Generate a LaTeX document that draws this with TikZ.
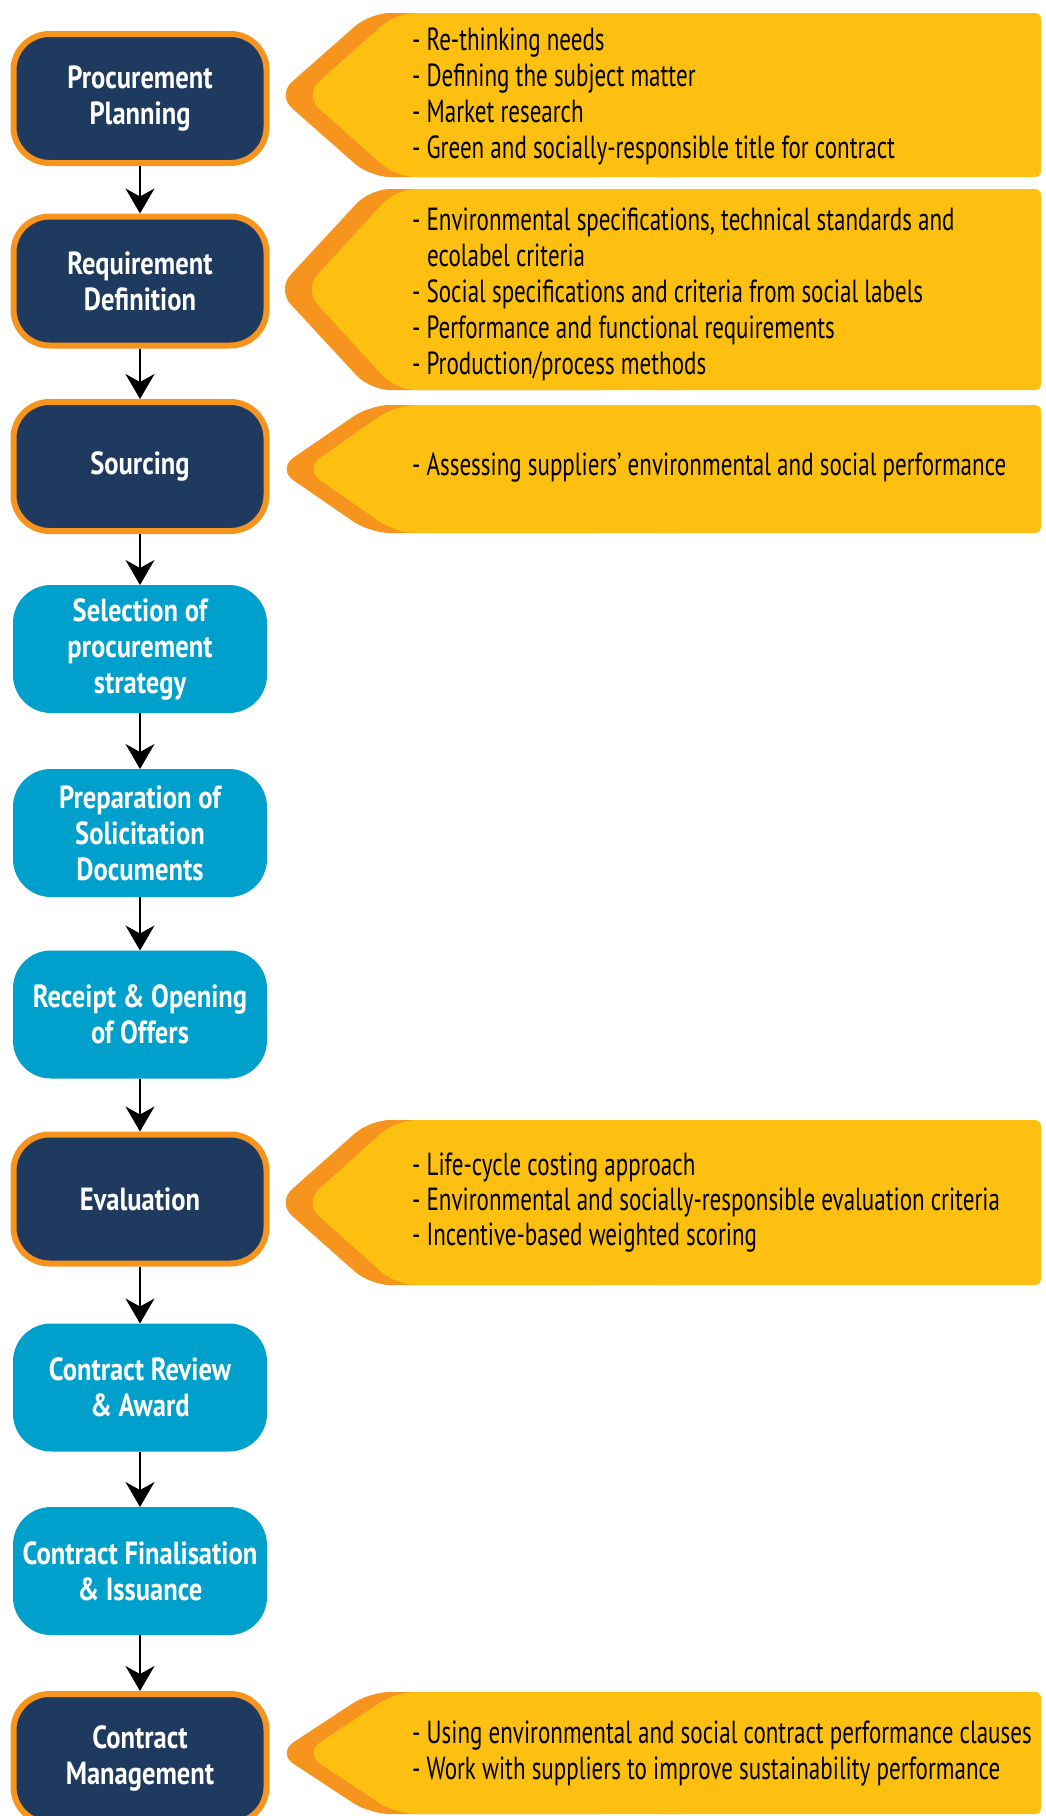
\documentclass[tikz,border=0pt]{standalone}
\usepackage{fontspec}
\setmainfont{PT Sans}[FakeStretch=0.72]
\newfontfamily\boxfont{PT Sans}[FakeStretch=0.83]
\usetikzlibrary{arrows.meta}
\definecolor{navy}{HTML}{1F3A5F}
\definecolor{borange}{HTML}{F7941E}
\definecolor{cyellow}{HTML}{FDC010}
\definecolor{lblue}{HTML}{00A0CC}
\tikzset{
  darkbox/.style={rectangle, rounded corners=36pt, fill=navy, draw=borange, line width=6pt,
    minimum width=253pt, minimum height=129pt, outer sep=3pt, inner sep=0pt, text=white,
    font=\boxfont\fontsize{32}{36}\selectfont\bfseries, align=center},
  lightbox/.style={rectangle, rounded corners=38pt, fill=lblue, minimum width=254pt,
    minimum height=128pt, outer sep=0pt, inner sep=0pt, text=white,
    font=\boxfont\fontsize{32}{36}\selectfont\bfseries, align=center},
  flow/.style={line width=1.5pt, -{Stealth[length=25pt,width=29pt,inset=8pt]}},
  ctext/.style={anchor=base west, inner sep=0pt, font=\fontsize{32}{36}\selectfont, text=black},
}
\newcommand\mycallout[2]{%
  \pgfmathsetmacro\cmid{(#1+#2)/2}%
  \fill[borange, rounded corners=20pt] (620,#1) -- (370,#1) -- (277,\cmid) -- (370,#2) -- (620,#2) -- cycle;
  \fill[cyellow, rounded corners=20pt] (700,#1) -- (396,#1) -- (304,\cmid) -- (396,#2) -- (700,#2) -- cycle;
  \fill[cyellow, rounded corners=6pt] (650,#1) rectangle (1041,#2);
}
\begin{document}
\begin{tikzpicture}[x=1pt,y=-1pt]
\useasboundingbox (0,0) rectangle (1045,1816);
\clip (0,0) rectangle (1045,1816);
% callouts
\mycallout{13}{177}
\mycallout{189}{390}
\mycallout{405}{533}
\mycallout{1120}{1285}
\mycallout{1692}{1814}
% callout texts
\node[ctext] (c1a) at (412,50) {- Re-thinking needs};
\node[ctext] (c1b) at (412,86) {- Defining the subject matter};
\node[ctext] (c1c) at (412,122) {- Market research};
\node[ctext] (c1d) at (412,158) {- Green and socially-responsible title for contract};
\node[ctext] (c2a) at (412,230) {- Environmental specifications, technical standards and};
\node[ctext] (c2b) at (427,266) {ecolabel criteria};
\node[ctext] (c2c) at (412,302) {- Social specifications and criteria from social labels};
\node[ctext] (c2d) at (412,338) {- Performance and functional requirements};
\node[ctext] (c2e) at (412,374) {- Production/process methods};
\node[ctext] (c3a) at (412,475) {- Assessing suppliers’ environmental and social performance};
\node[ctext] (c4a) at (412,1175) {- Life-cycle costing approach};
\node[ctext] (c4b) at (412,1210) {- Environmental and socially-responsible evaluation criteria};
\node[ctext] (c4c) at (412,1245) {- Incentive-based weighted scoring};
\node[ctext] (c5a) at (412,1743) {- Using environmental and social contract performance clauses};
\node[ctext] (c5b) at (412,1779) {- Work with suppliers to improve sustainability performance};
% boxes
\node[darkbox] (b1) at (140,98.5) {Procurement\\Planning};
\node[darkbox] (b2) at (140,281) {Requirement\\Definition};
\node[darkbox] (b3) at (140,466.5) {Sourcing};
\node[lightbox] (b4) at (140,649) {Selection of\\procurement\\strategy};
\node[lightbox] (b5) at (140,833) {Preparation of\\Solicitation\\Documents};
\node[lightbox] (b6) at (140,1014.5) {Receipt \& Opening\\of Offers};
\node[darkbox] (b7) at (140,1199) {Evaluation};
\node[lightbox] (b8) at (140,1387.5) {Contract Review\\\& Award};
\node[lightbox] (b9) at (140,1571) {Contract Finalisation\\\& Issuance};
\node[darkbox] (b10) at (140,1758.5) {Contract\\Management};
% connectors
\foreach \a/\b in {b1/b2,b2/b3,b3/b4,b4/b5,b5/b6,b6/b7,b7/b8,b8/b9,b9/b10}
  \draw[flow] (\a.south) -- (\b.north);
\end{tikzpicture}
\end{document}
